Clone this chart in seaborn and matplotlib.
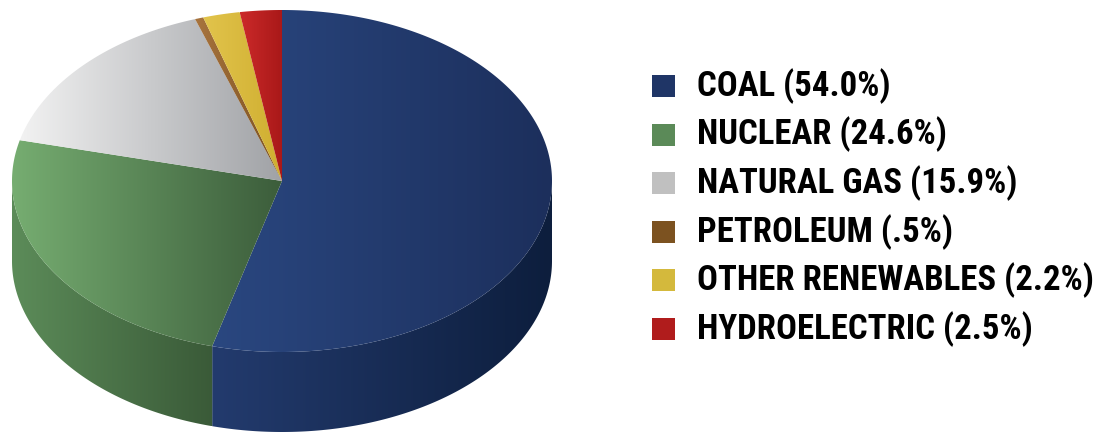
import numpy as np
import matplotlib
matplotlib.use("Agg")
import matplotlib.pyplot as plt
from matplotlib import font_manager
from matplotlib.patches import Polygon, Rectangle
from matplotlib.colors import LinearSegmentedColormap
import seaborn as sns

# Electricity generation by source (percent)
categories = ["COAL", "NUCLEAR", "NATURAL GAS", "PETROLEUM", "OTHER RENEWABLES", "HYDROELECTRIC"]
shares = [54.0, 24.6, 15.9, 0.5, 2.2, 2.5]

# Legend swatch colours and (light, dark) shading for top faces and side walls
swatch_colors = ["#1f3566", "#5b8a58", "#c0c0c0", "#7c5220", "#d4b93c", "#b01c1c"]
top_shades = [("#2a4780", "#1c2f5c"), ("#76ad71", "#3c5d3b"), ("#f2f2f2", "#a0a2a6"),
              ("#a8743e", "#7a5020"), ("#e2c44c", "#cfae30"), ("#cc2a2a", "#a81818")]
side_shades = [("#233b6e", "#0d1e3d"), ("#5c8c59", "#3a5a38"), ("#c8c8c8", "#8c8c90"),
               ("#8a5a28", "#5e3c14"), ("#c8aa30", "#a08420"), ("#a82020", "#801010")]

sns.set_theme(style="white")

# Prefer a condensed face for the legend; otherwise use a regular one at a smaller size
installed = {f.name for f in font_manager.fontManager.ttflist}
label_family, label_size = "Liberation Sans", 20
for fam in ["Liberation Sans Narrow", "Arial Narrow", "Roboto Condensed"]:
    if fam in installed:
        label_family, label_size = fam, 25
        break
plt.rcParams["font.family"] = [label_family, "DejaVu Sans"]

W, H = 1105, 433
fig = plt.figure(figsize=(W / 100, H / 100), dpi=100)
ax = fig.add_axes([0, 0, 1, 1])
ax.set_xlim(0, W)
ax.set_ylim(H, 0)
ax.axis("off")

# Pie geometry (tilted disc): centre, semi-axes, thickness
cx, cy, rx, ry, depth = 282, 181, 270, 171, 80


def ellipse_pts(t):
    return cx + rx * np.cos(t), cy - ry * np.sin(t)


def shaded_patch(xs, ys, c_left, c_right, z):
    poly = Polygon(np.column_stack([xs, ys]), closed=True, facecolor="none",
                   edgecolor="none", zorder=z)
    ax.add_patch(poly)
    cmap = LinearSegmentedColormap.from_list("shade", [c_left, c_right])
    grad = np.linspace(0, 1, 256).reshape(1, -1)
    im = ax.imshow(grad, cmap=cmap, aspect="auto", interpolation="bilinear",
                   extent=(xs.min(), xs.max(), ys.max(), ys.min()), zorder=z)
    im.set_clip_path(poly)


total = sum(shares)
angles = 90 - np.cumsum([0] + shares) / total * 360.0  # clockwise from 12 o'clock

# Side walls: only the front half (angles between -180 and 0 degrees) is visible
for i in range(len(shares)):
    a_start, a_end = angles[i], angles[i + 1]
    lo, hi = max(a_end, -180.0), min(a_start, 0.0)
    if hi <= lo:
        continue
    t = np.radians(np.linspace(hi, lo, 200))
    x, y = ellipse_pts(t)
    xs = np.concatenate([x, x[::-1]])
    ys = np.concatenate([y, y[::-1] + depth])
    shaded_patch(xs, ys, side_shades[i][0], side_shades[i][1], z=1)

# Top faces
for i in range(len(shares)):
    t = np.radians(np.linspace(angles[i], angles[i + 1], 300))
    x, y = ellipse_pts(t)
    xs = np.concatenate([[cx], x])
    ys = np.concatenate([[cy], y])
    shaded_patch(xs, ys, top_shades[i][0], top_shades[i][1], z=2)


def pct_text(v):
    s = f"{v:.1f}"
    return (s.lstrip("0") if v < 1 else s) + "%"


# Legend
row_y0, row_step = 86, 48.6
for i, name in enumerate(categories):
    yc = row_y0 + i * row_step
    ax.add_patch(Rectangle((652, yc - 11), 23, 22, facecolor=swatch_colors[i],
                           edgecolor="none", zorder=3))
    ax.text(697, yc, f"{name} ({pct_text(shares[i])})", fontsize=label_size,
            fontweight="bold", color="black", va="center", ha="left", zorder=3)

fig.savefig("out.png", dpi=100)
